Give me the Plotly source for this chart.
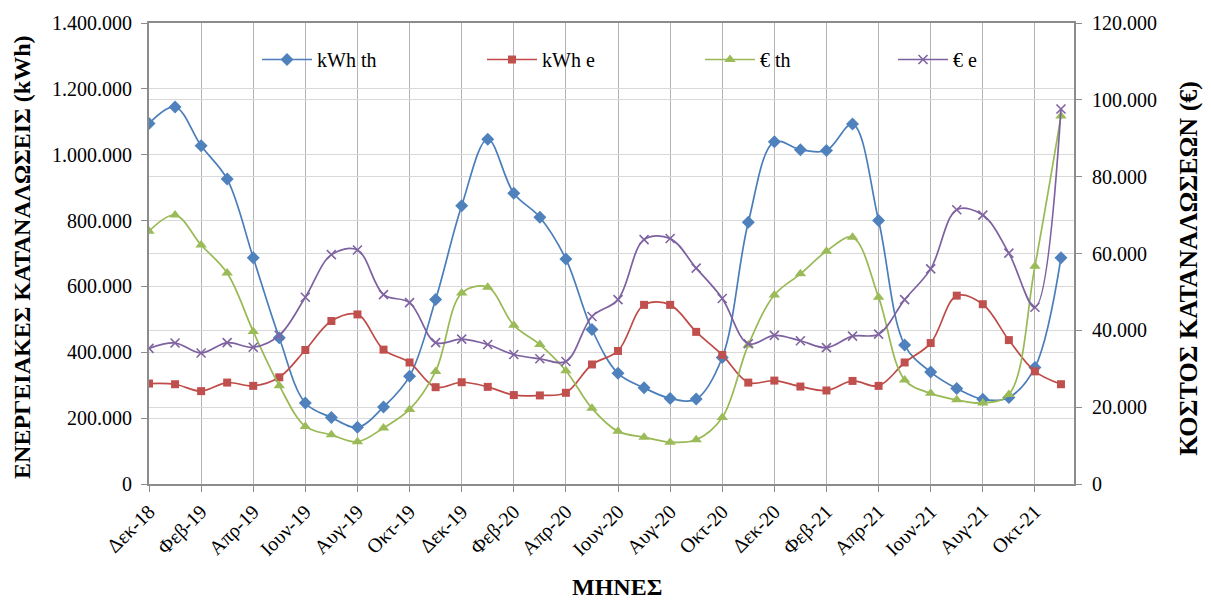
import plotly.graph_objects as go

months = ["Δεκ-18", "Ιαν-19", "Φεβ-19", "Μαρ-19", "Απρ-19", "Μαϊ-19", "Ιουν-19", "Ιουλ-19",
          "Αυγ-19", "Σεπ-19", "Οκτ-19", "Νοε-19", "Δεκ-19", "Ιαν-20", "Φεβ-20", "Μαρ-20",
          "Απρ-20", "Μαϊ-20", "Ιουν-20", "Ιουλ-20", "Αυγ-20", "Σεπ-20", "Οκτ-20", "Νοε-20",
          "Δεκ-20", "Ιαν-21", "Φεβ-21", "Μαρ-21", "Απρ-21", "Μαϊ-21", "Ιουν-21", "Ιουλ-21",
          "Αυγ-21", "Σεπ-21", "Οκτ-21", "Νοε-21"]

kwh_th = [1095000, 1145000, 1027000, 926000, 687000, 444000, 246000, 202000, 172000, 234000,
          327000, 560000, 845000, 1047000, 883000, 810000, 683000, 469000, 336000, 292000,
          260000, 258000, 384000, 795000, 1039000, 1015000, 1013000, 1093000, 800000, 422000,
          340000, 290000, 257000, 263000, 354000, 687000]

kwh_e = [305000, 303000, 282000, 308000, 298000, 324000, 407000, 495000, 515000, 408000,
         369000, 294000, 309000, 295000, 270000, 269000, 277000, 363000, 404000, 544000,
         544000, 462000, 392000, 308000, 314000, 296000, 284000, 313000, 298000, 369000,
         428000, 572000, 546000, 437000, 342000, 303000]

eur_th = [65800, 70000, 62200, 54900, 39700, 25600, 15000, 12800, 11000, 14600,
          19400, 29300, 49700, 51200, 41300, 36300, 29500, 19700, 13700, 12200,
          10900, 11500, 17300, 36200, 49200, 54700, 60600, 64200, 48600, 27100,
          23600, 21900, 21100, 23300, 56700, 95800]

eur_e = [35300, 36700, 34100, 36800, 35600, 38700, 48600, 59700, 60900, 49300,
         47200, 36800, 37700, 36300, 33700, 32600, 31900, 43600, 48000, 63600,
         63900, 56200, 48300, 36500, 38700, 37300, 35500, 38500, 39000, 48000,
         56000, 71400, 70000, 60100, 46000, 97600]

series_names = ["kWh th", "kWh e", "€ th", "€ e"]
colors = ["#4A7EBB", "#BE4B48", "#98B954", "#7D60A0"]
marker_colors = ["#4F81BD", "#C0504D", "#9BBB59", "#8064A2"]

tick_idx = list(range(0, len(months), 2))
tick_text = [months[i] for i in tick_idx]
x = list(range(len(months)))

FONT = "'Liberation Serif', 'Times New Roman', 'DejaVu Serif', serif"
TICK_SIZE = 20

fig = go.Figure()

specs = [
    (kwh_th, "y", dict(symbol="diamond", size=10), "legend"),
    (kwh_e, "y", dict(symbol="square", size=8), "legend2"),
    (eur_th, "y2", dict(symbol="triangle-up", size=10), "legend3"),
    (eur_e, "y2", dict(symbol="x-thin-open", size=9, line=dict(width=1.6)), "legend4"),
]

for i, (vals, yax, mk, lg) in enumerate(specs):
    m = dict(mk)
    m["color"] = marker_colors[i]
    if "line" in m:
        m["line"]["color"] = marker_colors[i]
    fig.add_trace(go.Scatter(
        x=x, y=vals, name=series_names[i], yaxis=yax, mode="lines+markers",
        line=dict(color=colors[i], width=1.7, shape="spline", smoothing=1.0),
        marker=m, legend=lg,
    ))

L, R, T, B = 149, 137, 17, 116
W, H = 1211, 600
pw = W - L - R
ph = H - T - B

def px2x(px):
    return (px - L) / pw

def py2y(py):
    return (H - B - py) / ph

leg_common = dict(orientation="h", yanchor="middle", xanchor="left",
                  bgcolor="rgba(0,0,0,0)", itemwidth=50,
                  font=dict(family=FONT, size=TICK_SIZE, color="black"))
legend_px = [257, 482, 700, 893]

layout_legends = {}
for k, p in enumerate(legend_px):
    key = "legend" if k == 0 else f"legend{k+1}"
    layout_legends[key] = dict(leg_common, x=px2x(p), y=py2y(54))

axis_tickfont = dict(family=FONT, size=TICK_SIZE, color="black")

fig.update_layout(
    width=W, height=H,
    margin=dict(l=L, r=R, t=T, b=B),
    paper_bgcolor="white", plot_bgcolor="white",
    separators=",.",
    font=dict(family=FONT, size=TICK_SIZE, color="black"),
    showlegend=True,
    xaxis=dict(
        range=[0, 35.5], tickmode="array", tickvals=tick_idx, ticktext=tick_text,
        tickangle=-45, showgrid=True, gridcolor="#B4B4B4", gridwidth=1,
        showline=True, linecolor="#8C8C8C", linewidth=2, mirror=True,
        ticks="outside", ticklen=6, tickcolor="#8C8C8C", tickwidth=1,
        tickfont=axis_tickfont, zeroline=False,
    ),
    yaxis=dict(
        range=[0, 1400000], dtick=200000, tickformat=",d",
        showgrid=True, gridcolor="#D9D9D9", gridwidth=1,
        showline=True, linecolor="#8C8C8C", linewidth=2,
        ticks="outside", ticklen=6, tickcolor="#8C8C8C", ticklabelstandoff=5,
        tickfont=axis_tickfont, zeroline=False,
    ),
    yaxis2=dict(
        range=[0, 120000], dtick=20000, tickformat=",d", overlaying="y", side="right",
        showgrid=True, gridcolor="#D9D9D9", gridwidth=1,
        showline=True, linecolor="#8C8C8C", linewidth=2,
        ticks="outside", ticklen=6, tickcolor="#8C8C8C", ticklabelstandoff=6,
        tickfont=axis_tickfont, zeroline=False,
    ),
    **layout_legends,
)

title_font = dict(family=FONT, size=24, color="black")
fig.add_annotation(text="<b>ΕΝΕΡΓΕΙΑΚΕΣ ΚΑΤΑΝΑΛΩΣΕΙΣ (kWh)</b>", textangle=-90,
                   xref="paper", yref="paper", x=px2x(22), y=py2y(254),
                   xanchor="center", yanchor="middle", showarrow=False, font=title_font)
fig.add_annotation(text="<b>ΚΟΣΤΟΣ ΚΑΤΑΝΑΛΩΣΕΩΝ (€)</b>", textangle=-90,
                   xref="paper", yref="paper", x=px2x(1189), y=py2y(266),
                   xanchor="center", yanchor="middle", showarrow=False,
                   font=dict(family=FONT, size=26, color="black"))
fig.add_annotation(text="<b>ΜΗΝΕΣ</b>",
                   xref="paper", yref="paper", x=px2x(617), y=py2y(588),
                   xanchor="center", yanchor="middle", showarrow=False, font=title_font)

fig.write_html("out.html")
